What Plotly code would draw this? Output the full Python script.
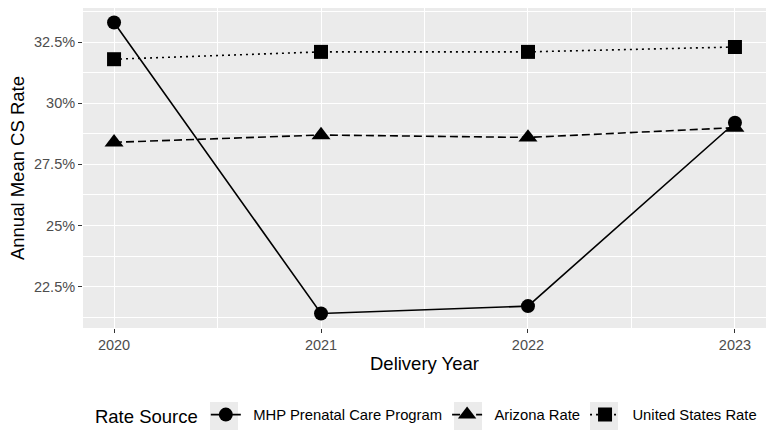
import plotly.graph_objects as go

years = [2020, 2021, 2022, 2023]
mhp = [33.3, 21.4, 21.7, 29.2]
arizona = [28.4, 28.7, 28.6, 29.0]
us = [31.8, 32.1, 32.1, 32.3]
y_ticks = [22.5, 25, 27.5, 30, 32.5]
y_tick_labels = ["22.5%", "25%", "27.5%", "30%", "32.5%"]

FONT = "Liberation Sans, Arial, Helvetica, sans-serif"
SP = "\u2002"

fig = go.Figure()
series = [
    ("MHP Prenatal Care Program", mhp, "solid", "circle", 14),
    ("Arizona Rate", arizona, "8px,4px", "triangle-up", 16.5),
    ("United States Rate", us, "2px,4px", "square", 14),
]
for name, vals, dash, sym, size in series:
    fig.add_trace(go.Scatter(
        x=years, y=vals, name=SP + name, mode="lines+markers",
        line=dict(color="black", width=1.6, dash=dash),
        marker=dict(symbol=sym, size=size, color="black"),
    ))

# legend key backgrounds (ggplot-style grey key boxes)
PL, PW, PB, PH = 83, 683, 328, 320
key_centers_px = [224, 468, 604]
for cx in key_centers_px:
    fig.add_shape(
        type="rect", xref="paper", yref="paper", layer="below",
        x0=(cx - 14 - PL) / PW, x1=(cx + 14 - PL) / PW,
        y0=(PB - 430) / PH, y1=(PB - 402) / PH,
        fillcolor="#EBEBEB", line=dict(width=0),
    )

fig.update_layout(
    width=770, height=438,
    margin=dict(l=83, r=4, t=8, b=110),
    paper_bgcolor="white", plot_bgcolor="#EBEBEB",
    font=dict(family=FONT, color="black"),
    showlegend=True,
    legend=dict(
        orientation="h", x=0.0146, xanchor="left", y=-0.275, yanchor="middle",
        title=dict(text="Rate Source", font=dict(size=18.5, color="black")),
        font=dict(size=14.8, color="black"),
        itemwidth=30,
        bgcolor="rgba(0,0,0,0)",
    ),
    xaxis=dict(
        range=[2019.85, 2023.15],
        tickvals=years, ticktext=[str(y) for y in years],
        showgrid=True, gridcolor="white", gridwidth=1.1,
        minor=dict(tickvals=[2020.5, 2021.5, 2022.5], showgrid=True, gridcolor="white", gridwidth=0.5),
        zeroline=False, showline=False,
        ticks="outside", ticklen=4, tickcolor="#333333", tickwidth=1,
        tickfont=dict(size=14.5, color="#4D4D4D"),
        title=dict(text="Delivery Year", font=dict(size=18.5, color="black"), standoff=4),
    ),
    yaxis=dict(
        range=[20.805, 33.895],
        tickvals=y_ticks, ticktext=y_tick_labels,
        showgrid=True, gridcolor="white", gridwidth=1.1,
        minor=dict(tickvals=[21.25, 23.75, 26.25, 28.75, 31.25, 33.75], showgrid=True, gridcolor="white", gridwidth=0.5),
        zeroline=False, showline=False,
        ticks="outside", ticklen=4, tickcolor="#333333", tickwidth=1,
        tickfont=dict(size=14.5, color="#4D4D4D"),
        title=dict(text="Annual Mean CS Rate", font=dict(size=18.5, color="black"), standoff=4),
    ),
)

fig.write_html("out.html")
